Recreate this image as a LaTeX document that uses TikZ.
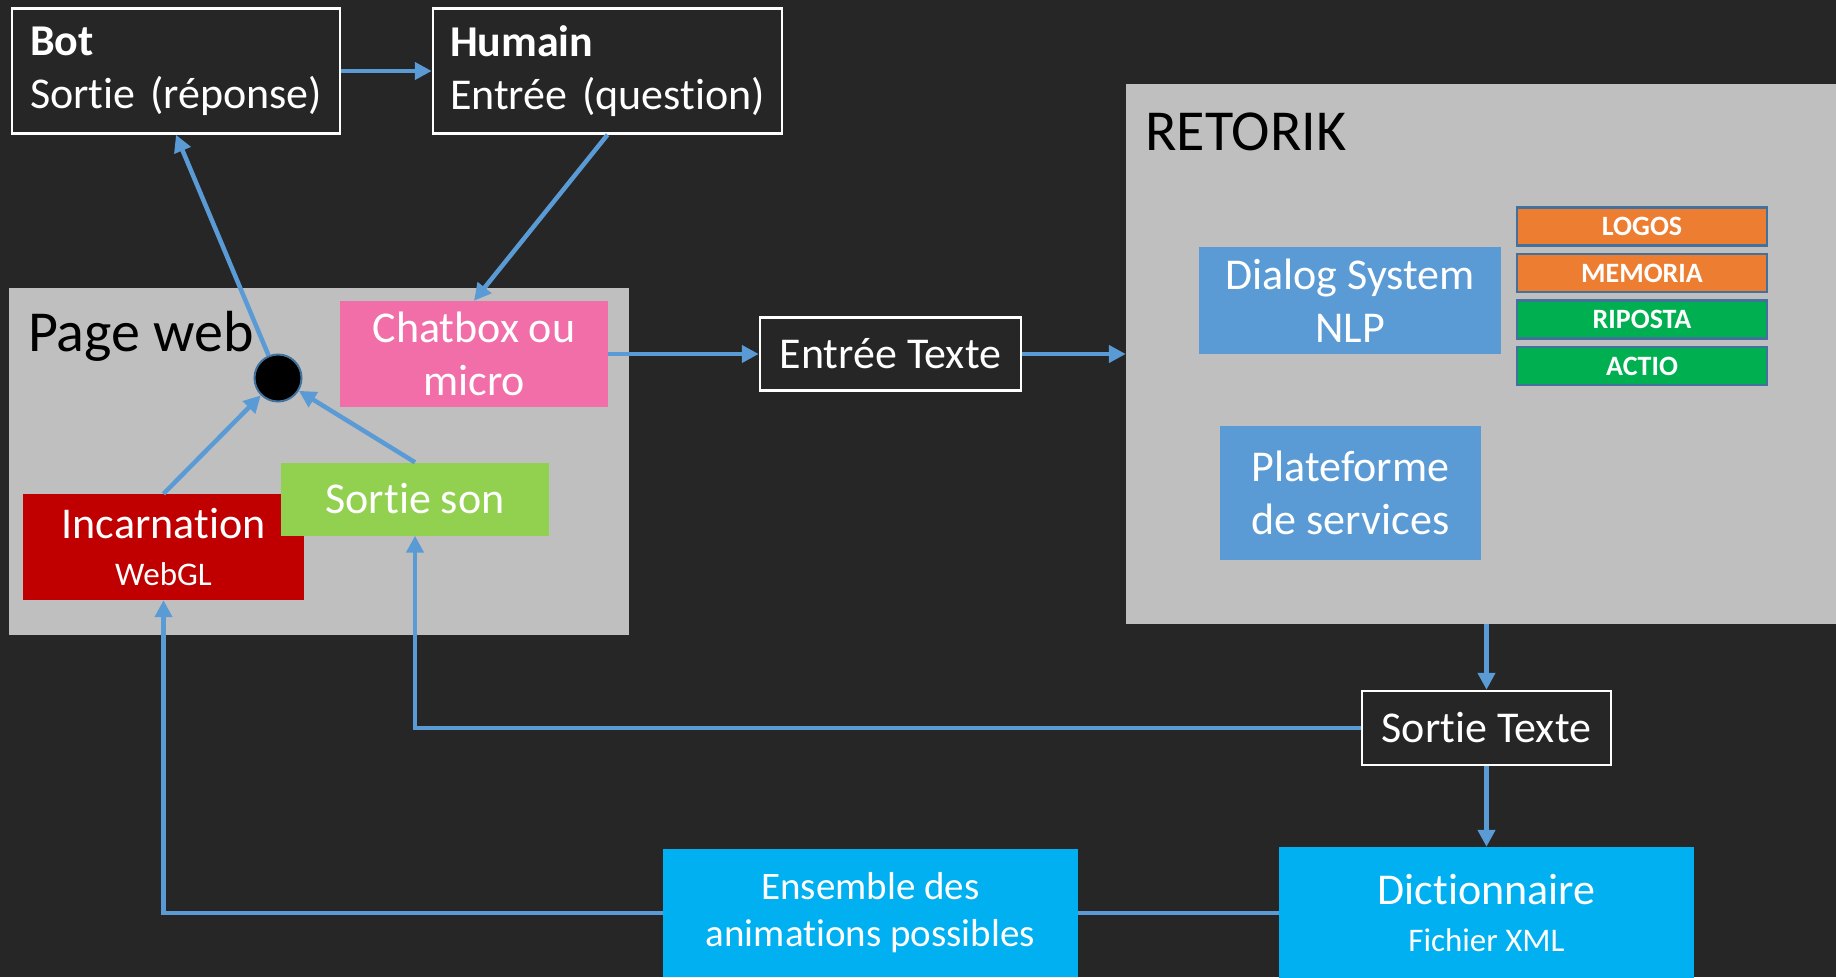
\documentclass[tikz,border=0pt]{standalone}
\usepackage{fontspec}
\setmainfont{Carlito}[Ligatures=CommonOff]
\usetikzlibrary{shapes,arrows.meta,positioning,calc}

\definecolor{bgdark}{HTML}{262626}
\definecolor{zonegray}{HTML}{BFBFBF}
\definecolor{linkblue}{HTML}{5B9BD5}
\definecolor{hubedge}{HTML}{41719C}
\definecolor{chatpink}{HTML}{F16EA9}
\definecolor{avatarred}{HTML}{C00000}
\definecolor{soundgreen}{HTML}{92D050}
\definecolor{tagorange}{HTML}{ED7D31}
\definecolor{taggreen}{HTML}{00B050}
\definecolor{dictcyan}{HTML}{00B0F0}

\newcommand{\hugetxt}{\fontsize{58}{70}\selectfont}
\newcommand{\bigtxt}{\fontsize{44}{53}\selectfont}
\newcommand{\subtxt}{\fontsize{33}{40}\selectfont}
\newcommand{\tagtxt}{\fontsize{28}{34}\selectfont}

\tikzset{
  outbox/.style={draw=white, line width=2.5pt, fill=bgdark, text=white, font=\bigtxt, inner sep=0pt},
  zone/.style={fill=zonegray, inner sep=0pt},
  block/.style={text=white, font=\bigtxt, align=center, inner sep=0pt},
  tagbox/.style={draw=hubedge, line width=2.5pt, text=white, font=\tagtxt\bfseries, minimum width=250, minimum height=38, inner sep=0pt},
  link/.style={draw=linkblue, line width=4.5pt, -{Triangle[length=17pt,width=17pt]}},
  plainlink/.style={draw=linkblue, line width=4.5pt}
}

\begin{document}
\begin{tikzpicture}[x=1pt,y=-1pt]
    \fill [bgdark] (0,0) rectangle (1836,977);
    \useasboundingbox (0,0) rectangle (1836,977);

    % bot / humain
    \node (bot) [outbox, minimum height=125, text width=304, inner xsep=12, align=left] at (176,71) {\hspace*{6pt}\textbf{Bot}\\\hspace*{6pt}Sortie (réponse)};
    \node (humain) [outbox, minimum height=125, text width=315, inner xsep=17, align=left] at (607.5,71) {\textbf{Humain}\\Entrée (question)};

    % page web
    \node (pageweb) [zone, minimum width=620, minimum height=347] at (319,461.5) {};
    \node (pagelabel) [anchor=west, font=\hugetxt, inner sep=0pt] at (28,336) {Page web};
    \node (hub) [circle, draw=hubedge, line width=2pt, fill=black, minimum size=47, inner sep=0pt] at (278,378) {};
    \node (chatbox) [block, fill=chatpink, minimum width=268, minimum height=106] at (474,354) {Chatbox ou\\micro};
    \node (incarnation) [block, fill=avatarred, minimum width=281, minimum height=106] at (163.5,547) {Incarnation\\[-6pt]{\subtxt WebGL}};
    \node (sortieson) [block, fill=soundgreen, minimum width=268, minimum height=73] at (415,499) {Sortie son};

    \node (entree) [outbox, minimum width=261, minimum height=73] at (890.5,354) {Entrée Texte};

    % retorik
    \node (retorik) [zone, minimum width=710, minimum height=540] at (1481,354) {};
    \node (retoriklabel) [anchor=west, font=\hugetxt, inner sep=0pt] at (1145,132) {RETORIK};
    \node (dialog) [block, fill=linkblue, minimum width=302, minimum height=107] at (1350,300.5) {Dialog System\\NLP};
    \node (plateforme) [block, fill=linkblue, minimum width=261, minimum height=134] at (1350.5,493) {Plateforme\\de services};
    \node (logos) [tagbox, fill=tagorange] at (1642,226.5) {LOGOS};
    \node (memoria) [tagbox, fill=tagorange, below=6pt of logos] {MEMORIA};
    \node (riposta) [tagbox, fill=taggreen, below=6pt of memoria] {RIPOSTA};
    \node (actio) [tagbox, fill=taggreen, below=6pt of riposta] {ACTIO};

    % sortie
    \node (sortietexte) [outbox, minimum width=249, minimum height=74] at (1486.5,728) {Sortie Texte};
    \node (dict) [block, fill=dictcyan, minimum width=415, minimum height=132] at (1486.5,913) {Dictionnaire\\[-6pt]{\subtxt Fichier XML}};
    \node (ens) [block, fill=dictcyan, minimum width=415, minimum height=128, font=\fontsize{39}{47}\selectfont] at (870.5,913) {Ensemble des\\animations possibles};

    \draw [link] (bot) -- (humain);
    \draw [link] (humain.south) -- (chatbox.north);
    \draw [link] (hub) -- (bot.south);
    \draw [link] (incarnation.north) -- (hub);
    \draw [link] (sortieson.north) -- (hub);
    \draw [link] (chatbox.east) -- (entree.west);
    \draw [link] (entree.east) -- (entree.east -| retorik.west);
    \draw [link] (retorik.south -| sortietexte.north) -- (sortietexte.north);
    \draw [link] (sortietexte.south) -- (dict.north);
    \draw [link] (sortietexte.west) -| (sortieson.south);
    \draw [plainlink] (dict.west) -- (ens.east);
    \draw [link] (ens.west) -| (incarnation.south);

\end{tikzpicture}
\end{document}
